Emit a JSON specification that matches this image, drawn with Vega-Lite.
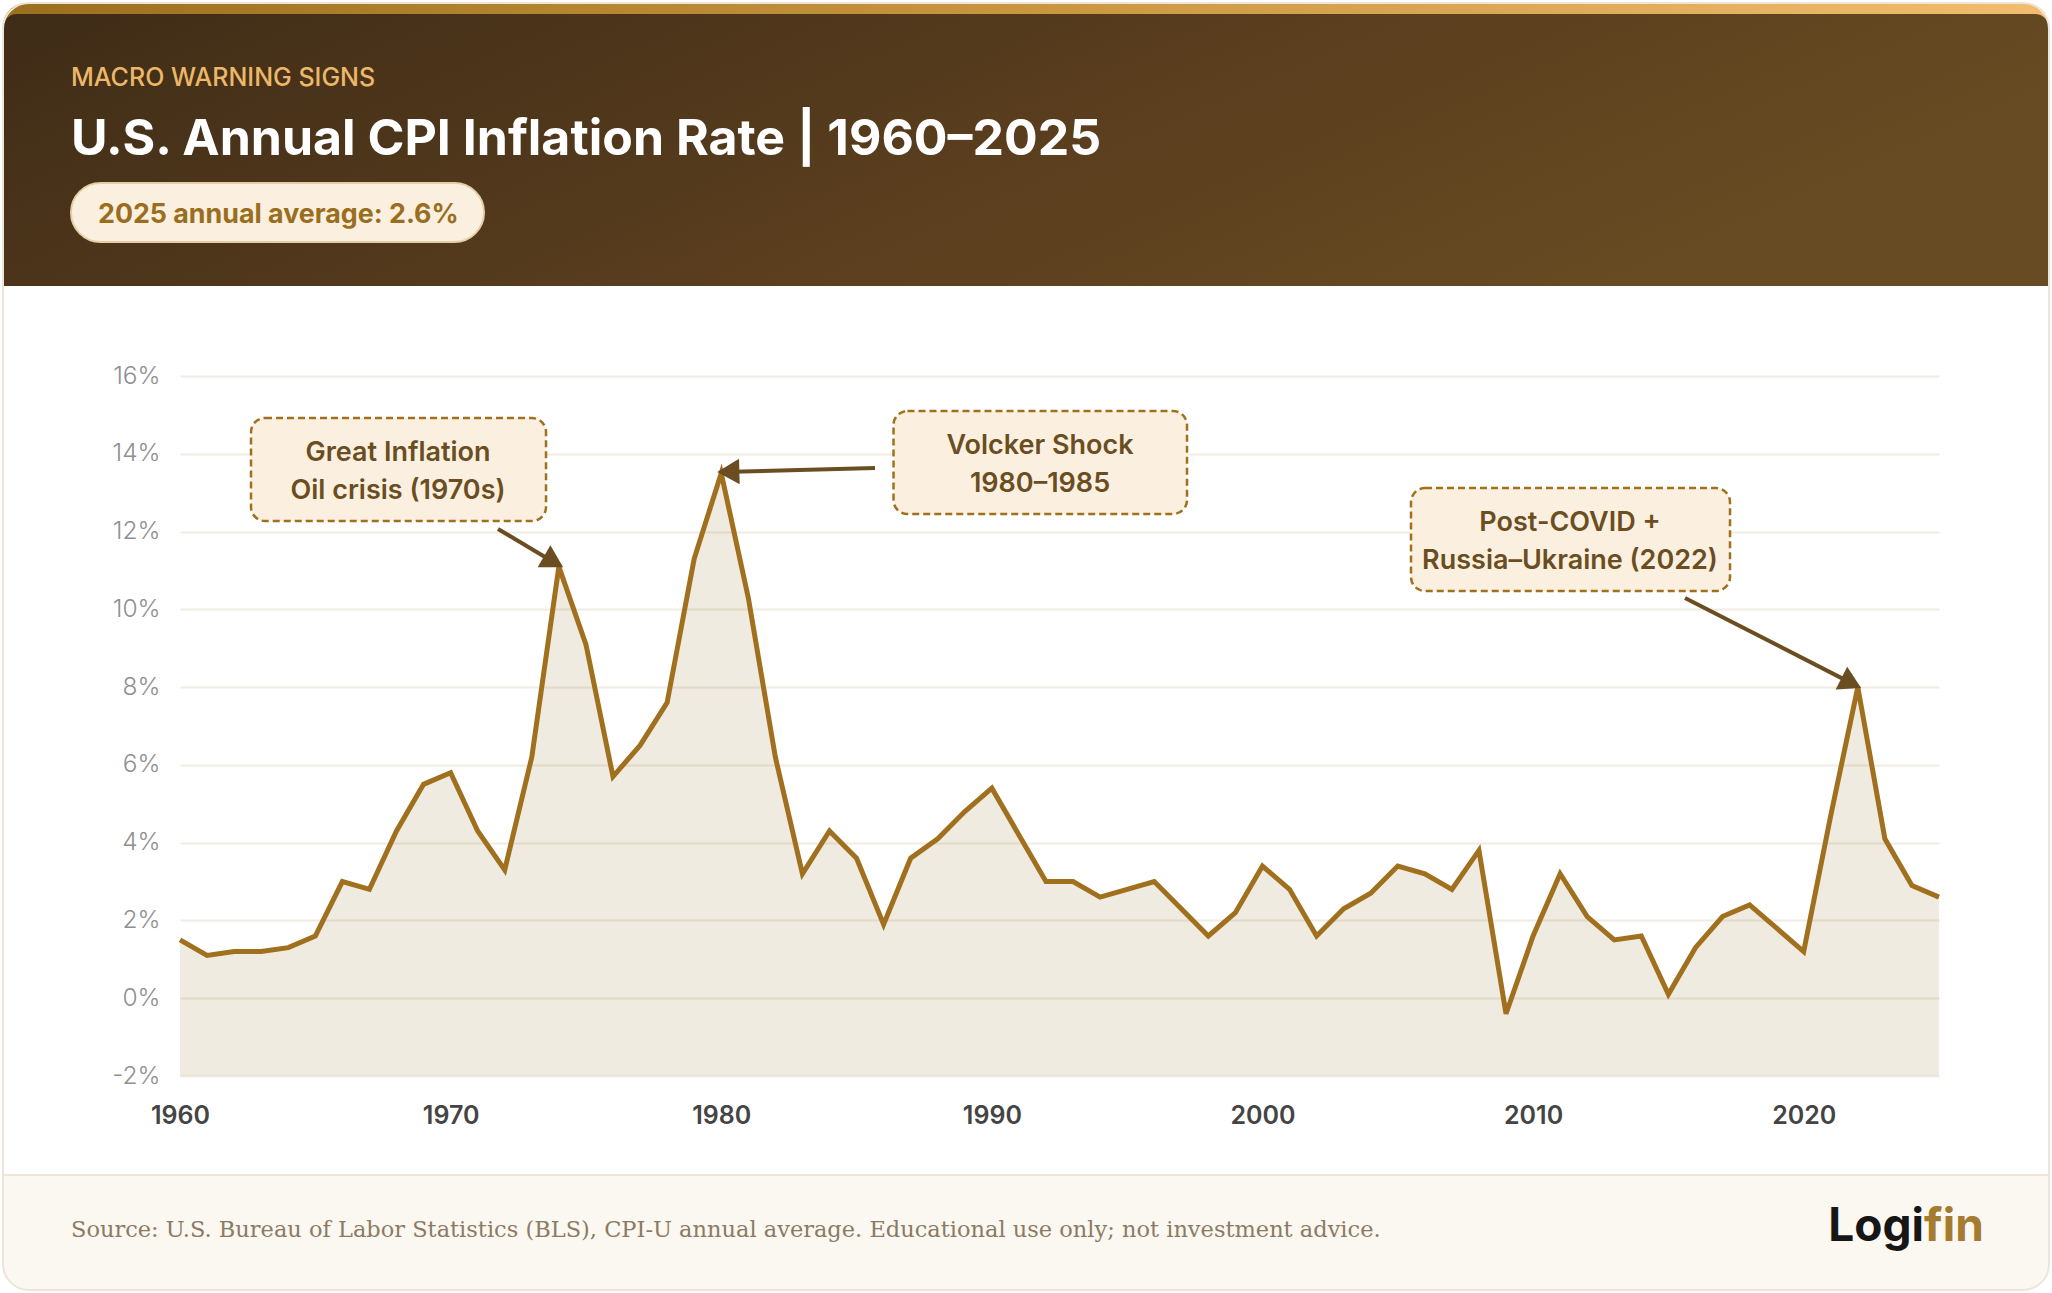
{
  "$schema": "https://vega.github.io/schema/vega-lite/v6.json",
  "width": 1759,
  "height": 700,
  "padding": {"left": 180, "top": 376, "right": 113, "bottom": 217},
  "autosize": {"type": "none"},
  "background": "#ffffff",
  "config": {"font": "Inter", "view": {"stroke": null}},
  "encoding": {
    "x": {
      "field": "year",
      "type": "quantitative",
      "scale": {"domain": [1960, 2025], "nice": false, "zero": false},
      "axis": {
        "title": null,
        "values": [1960, 1970, 1980, 1990, 2000, 2010, 2020],
        "format": "d",
        "grid": false,
        "domain": false,
        "ticks": false,
        "labelFont": "Inter",
        "labelFontSize": 25,
        "labelFontWeight": 600,
        "labelColor": "#444444",
        "labelPadding": 27,
        "labelFlush": false,
        "labelOverlap": false,
        "labelBound": false
      }
    },
    "y": {
      "field": "pct",
      "type": "quantitative",
      "scale": {"domain": [-2, 16], "nice": false, "zero": false},
      "axis": {
        "title": null,
        "values": [-2, 0, 2, 4, 6, 8, 10, 12, 14, 16],
        "labelExpr": "datum.value + '%'",
        "grid": true,
        "gridColor": "#f1ece2",
        "gridWidth": 2,
        "domain": false,
        "ticks": false,
        "labelFont": "Inter",
        "labelFontSize": 24.5,
        "labelFontWeight": 300,
        "labelColor": "#8f8f8f",
        "labelPadding": 20,
        "labelOverlap": false,
        "labelBound": false
      }
    }
  },
  "layer": [
    {
      "data": {"values": [{"year": 1953.459, "year2": 2029.065, "pct": 25.591, "pct2": 24.383}]},
      "mark": {
        "type": "rect",
        "cornerRadiusTopLeft": 26,
        "cornerRadiusTopRight": 26,
        "fill": {
          "gradient": "linear", "x1": 0, "y1": 0, "x2": 1, "y2": 0,
          "stops": [
            {"offset": 0, "color": "#9c6f1f"},
            {"offset": 0.5, "color": "#c99640"},
            {"offset": 1, "color": "#f2bd6e"}
          ]
        }
      },
      "encoding": {"x2": {"field": "year2"}, "y2": {"field": "pct2"}}
    },
    {
      "data": {"values": [{"year": 1953.459, "year2": 2029.065, "pct": 25.309, "pct2": 18.314}]},
      "mark": {
        "type": "rect",
        "cornerRadiusTopLeft": 14,
        "cornerRadiusTopRight": 14,
        "fill": {
          "gradient": "linear", "x1": 0, "y1": 0, "x2": 1, "y2": 0.3,
          "stops": [
            {"offset": 0, "color": "#3f2c17"},
            {"offset": 0.6, "color": "#5a3e1e"},
            {"offset": 1, "color": "#674b22"}
          ]
        }
      },
      "encoding": {"x2": {"field": "year2"}, "y2": {"field": "pct2"}}
    },
    {
      "data": {"values": [{"year": 1953.459, "year2": 2029.065, "pct": -4.546, "pct2": -7.477}]},
      "mark": {
        "type": "rect",
        "fill": "#fbf8f2",
        "cornerRadiusBottomLeft": 26,
        "cornerRadiusBottomRight": 26
      },
      "encoding": {"x2": {"field": "year2"}, "y2": {"field": "pct2"}}
    },
    {
      "data": {"values": [{"year": 1953.459, "year2": 2029.065, "pct": -4.546}]},
      "mark": {"type": "rule", "stroke": "#ede6d8", "strokeWidth": 2},
      "encoding": {"x2": {"field": "year2"}}
    },
    {
      "data": {"values": [{"year": 1953.459, "year2": 2029.065, "pct": 25.591, "pct2": -7.503}]},
      "mark": {
        "type": "rect",
        "fill": null,
        "stroke": "#ede6d8",
        "strokeWidth": 2,
        "cornerRadius": 26
      },
      "encoding": {"x2": {"field": "year2"}, "y2": {"field": "pct2"}}
    },
    {
      "data": {"values": [{"year": 1955.972, "year2": 1971.234, "pct": 20.963, "pct2": 19.446}]},
      "mark": {
        "type": "rect",
        "fill": "#fbf0df",
        "stroke": "#e3cfa5",
        "strokeWidth": 2,
        "cornerRadius": 30
      },
      "encoding": {"x2": {"field": "year2"}, "y2": {"field": "pct2"}}
    },
    {
      "data": {"name": "inflation", "values": [
        {"year": 1960, "pct": 1.5}, {"year": 1961, "pct": 1.1}, {"year": 1962, "pct": 1.2},
        {"year": 1963, "pct": 1.2}, {"year": 1964, "pct": 1.3}, {"year": 1965, "pct": 1.6},
        {"year": 1966, "pct": 3.0}, {"year": 1967, "pct": 2.8}, {"year": 1968, "pct": 4.3},
        {"year": 1969, "pct": 5.5}, {"year": 1970, "pct": 5.8}, {"year": 1971, "pct": 4.3},
        {"year": 1972, "pct": 3.3}, {"year": 1973, "pct": 6.2}, {"year": 1974, "pct": 11.1},
        {"year": 1975, "pct": 9.1}, {"year": 1976, "pct": 5.7}, {"year": 1977, "pct": 6.5},
        {"year": 1978, "pct": 7.6}, {"year": 1979, "pct": 11.3}, {"year": 1980, "pct": 13.5},
        {"year": 1981, "pct": 10.3}, {"year": 1982, "pct": 6.2}, {"year": 1983, "pct": 3.2},
        {"year": 1984, "pct": 4.3}, {"year": 1985, "pct": 3.6}, {"year": 1986, "pct": 1.9},
        {"year": 1987, "pct": 3.6}, {"year": 1988, "pct": 4.1}, {"year": 1989, "pct": 4.8},
        {"year": 1990, "pct": 5.4}, {"year": 1991, "pct": 4.2}, {"year": 1992, "pct": 3.0},
        {"year": 1993, "pct": 3.0}, {"year": 1994, "pct": 2.6}, {"year": 1995, "pct": 2.8},
        {"year": 1996, "pct": 3.0}, {"year": 1997, "pct": 2.3}, {"year": 1998, "pct": 1.6},
        {"year": 1999, "pct": 2.2}, {"year": 2000, "pct": 3.4}, {"year": 2001, "pct": 2.8},
        {"year": 2002, "pct": 1.6}, {"year": 2003, "pct": 2.3}, {"year": 2004, "pct": 2.7},
        {"year": 2005, "pct": 3.4}, {"year": 2006, "pct": 3.2}, {"year": 2007, "pct": 2.8},
        {"year": 2008, "pct": 3.8}, {"year": 2009, "pct": -0.4}, {"year": 2010, "pct": 1.6},
        {"year": 2011, "pct": 3.2}, {"year": 2012, "pct": 2.1}, {"year": 2013, "pct": 1.5},
        {"year": 2014, "pct": 1.6}, {"year": 2015, "pct": 0.1}, {"year": 2016, "pct": 1.3},
        {"year": 2017, "pct": 2.1}, {"year": 2018, "pct": 2.4}, {"year": 2019, "pct": 1.8},
        {"year": 2020, "pct": 1.2}, {"year": 2021, "pct": 4.7}, {"year": 2022, "pct": 8.0},
        {"year": 2023, "pct": 4.1}, {"year": 2024, "pct": 2.9}, {"year": 2025, "pct": 2.6}
      ]},
      "layer": [
        {
          "mark": {"type": "area", "fill": "#825a00", "fillOpacity": 0.12},
          "encoding": {"y2": {"datum": -2}}
        },
        {
          "mark": {"type": "line", "stroke": "#a0701e", "strokeWidth": 5, "strokeJoin": "miter"}
        }
      ]
    },
    {
      "data": {"values": [
        {"year": 1962.624, "year2": 1973.525, "pct": 14.92, "pct2": 12.271},
        {"year": 1986.366, "year2": 1997.212, "pct": 15.1, "pct2": 12.451},
        {"year": 2005.489, "year2": 2017.277, "pct": 13.12, "pct2": 10.471}
      ]},
      "mark": {
        "type": "rect",
        "fill": "#fbf0df",
        "stroke": "#a0701e",
        "strokeWidth": 2.5,
        "strokeDash": [7, 4],
        "cornerRadius": 14
      },
      "encoding": {"x2": {"field": "year2"}, "y2": {"field": "pct2"}}
    },
    {
      "data": {"values": [
        {"year": 1971.751, "year2": 1973.673, "pct": 12.066, "pct2": 11.269},
        {"year": 1985.682, "year2": 1980.398, "pct": 13.634, "pct2": 13.539},
        {"year": 2015.614, "year2": 2021.637, "pct": 10.291, "pct2": 8.147}
      ]},
      "mark": {"type": "rule", "stroke": "#6b4d22", "strokeWidth": 4},
      "encoding": {"x2": {"field": "year2"}, "y2": {"field": "pct2"}}
    },
    {
      "data": {"values": [
        {"year": 1973.687, "pct": 11.271, "heading": 120},
        {"year": 1980.398, "pct": 13.539, "heading": 268.5},
        {"year": 2021.637, "pct": 8.147, "heading": 117}
      ]},
      "mark": {"type": "point", "shape": "triangle", "filled": true, "fill": "#6b4d22", "opacity": 1, "size": 650},
      "encoding": {"angle": {"field": "heading", "type": "quantitative", "scale": null}}
    },
    {
      "data": {"values": [
        {"year": 1968.056, "pct": 13.814, "label": "Great Inflation"},
        {"year": 1968.056, "pct": 12.837, "label": "Oil crisis (1970s)"},
        {"year": 1991.779, "pct": 13.994, "label": "Volcker Shock"},
        {"year": 1991.779, "pct": 13.017, "label": "1980–1985"},
        {"year": 2011.365, "pct": 12.014, "label": "Post-COVID +"},
        {"year": 2011.365, "pct": 11.037, "label": "Russia–Ukraine (2022)"}
      ]},
      "mark": {"type": "text", "align": "center", "baseline": "alphabetic", "font": "Inter", "fontSize": 27, "fontWeight": 600, "fill": "#6b4d22"},
      "encoding": {"text": {"field": "label"}}
    },
    {
      "data": {"values": [{"year": 1955.972, "pct": 23.457, "label": "MACRO WARNING SIGNS"}]},
      "mark": {"type": "text", "align": "left", "baseline": "alphabetic", "font": "Inter", "fontSize": 25, "fontWeight": 500, "fill": "#ebb869"},
      "encoding": {"text": {"field": "label"}}
    },
    {
      "data": {"values": [{"year": 1955.972, "pct": 21.683, "label": "U.S. Annual CPI Inflation Rate | 1960–2025"}]},
      "mark": {"type": "text", "align": "left", "baseline": "alphabetic", "font": "Inter", "fontSize": 50, "fontWeight": 700, "fill": "#ffffff"},
      "encoding": {"text": {"field": "label"}}
    },
    {
      "data": {"values": [{"year": 1956.97, "pct": 19.934, "label": "2025 annual average: 2.6%"}]},
      "mark": {"type": "text", "align": "left", "baseline": "alphabetic", "font": "Inter", "fontSize": 26.8, "fontWeight": 700, "fill": "#9a6e1e"},
      "encoding": {"text": {"field": "label"}}
    },
    {
      "data": {"values": [{"year": 1955.972, "pct": -6.14, "label": "Source: U.S. Bureau of Labor Statistics (BLS), CPI-U annual average. Educational use only; not investment advice."}]},
      "mark": {"type": "text", "align": "left", "baseline": "alphabetic", "font": "DejaVu Serif", "fontSize": 22.5, "fill": "#8c7b63"},
      "encoding": {"text": {"field": "label"}}
    },
    {
      "data": {"values": [{"year": 2024.446, "pct": -6.243, "label": "Logi"}]},
      "mark": {"type": "text", "align": "right", "baseline": "alphabetic", "font": "Inter", "fontSize": 46, "fontWeight": 700, "fill": "#161616"},
      "encoding": {"text": {"field": "label"}}
    },
    {
      "data": {"values": [{"year": 2024.446, "pct": -6.243, "label": "fin"}]},
      "mark": {"type": "text", "align": "left", "baseline": "alphabetic", "font": "Inter", "fontSize": 46, "fontWeight": 700, "fill": "#a47b2f"},
      "encoding": {"text": {"field": "label"}}
    }
  ]
}
